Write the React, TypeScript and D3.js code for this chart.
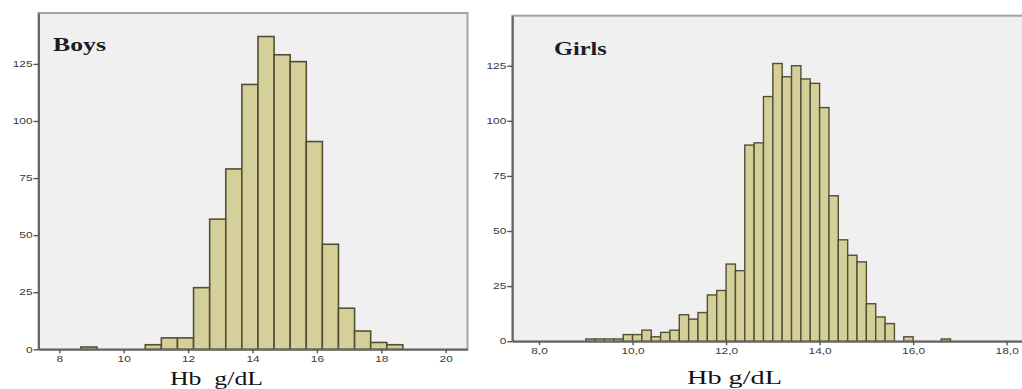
import { axisBottom, axisLeft, scaleLinear, select } from "d3";
import { useEffect, useRef } from "react";

// Boys: bins of 0.5 g/dL
const boysBins = [
  8.67, 9.17, 9.67, 10.17, 10.67, 11.17, 11.67, 12.17, 12.67, 13.17, 13.67,
  14.17, 14.67, 15.17, 15.67, 16.17, 16.67, 17.17, 17.67, 18.17,
];
const boysCounts = [
  1, 0, 0, 0, 2, 5, 5, 27, 57, 79, 116, 137, 129, 126, 91, 46, 18, 8, 3, 2,
];

// Girls: bins of 0.2 g/dL
const girlsBins = [
  9.0, 9.2, 9.4, 9.6, 9.8, 10.0, 10.2, 10.4, 10.6, 10.8, 11.0, 11.2, 11.4,
  11.6, 11.8, 12.0, 12.2, 12.4, 12.6, 12.8, 13.0, 13.2, 13.4, 13.6, 13.8, 14.0,
  14.2, 14.4, 14.6, 14.8, 15.0, 15.2, 15.4, 15.6, 15.8, 16.0, 16.2, 16.4, 16.6,
];
const girlsCounts = [
  1, 1, 1, 1, 3, 3, 5, 2, 4, 5, 12, 10, 13, 21, 23, 35, 32, 89, 90, 111, 126,
  120, 125, 119, 117, 106, 66, 46, 39, 36, 17, 11, 8, 0, 2, 0, 0, 0, 1,
];

const boysXTicks = [8, 10, 12, 14, 16, 18, 20];
const girlsXTicks = [8, 10, 12, 14, 16, 18];
const yTicks = [0, 25, 50, 75, 100, 125];

type PanelProps = {
  bins: number[];
  counts: number[];
  binWidth: number;
  xTicks: number[];
  x0: number;
  x1: number;
  top: number;
  bottom: number;
  xMin: number;
  xMax: number;
  yMax: number;
  title: string;
  titleX: number;
  titleY: number;
  titleLen: number;
  xFormat: (d: number) => string;
  label: string;
  labelX: number;
  labelY: number;
  labelLen: number;
  barStroke: number;
};

const Histogram = (p: PanelProps) => {
  const gRef = useRef<SVGGElement>(null);
  const xScale = scaleLinear().domain([p.xMin, p.xMax]).range([p.x0, p.x1]);
  const yScale = scaleLinear().domain([0, p.yMax]).range([p.bottom, p.top]);

  useEffect(() => {
    const g = select(gRef.current);
    g.selectAll(".axis").remove();
    const xa = g
      .append("g")
      .attr("class", "axis")
      .attr("transform", `translate(0,${p.bottom})`)
      .call(
        axisBottom(xScale)
          .tickValues(p.xTicks)
          .tickFormat((d) => p.xFormat(d as number))
          .tickSize(4)
          .tickSizeOuter(0)
          .tickPadding(3)
      );
    const ya = g
      .append("g")
      .attr("class", "axis")
      .attr("transform", `translate(${p.x0},0)`)
      .call(axisLeft(yScale).tickValues(yTicks).tickSize(5).tickSizeOuter(0));

    [xa, ya].forEach((a) => {
      a.select(".domain").attr("stroke", "#666").attr("stroke-width", 2);
      a.selectAll(".tick line").attr("stroke", "#555").attr("stroke-width", 1.4);
      a.selectAll(".tick text")
        .attr("fill", "#3a3a3a")
        .attr("font-family", "Liberation Sans, Arial, sans-serif")
        .attr("font-size", 8.5)
        .attr("transform", "scale(1.4,1)");
    });
    ya.selectAll(".tick text").attr("x", -6 / 1.4);
  }, []);

  return (
    <g ref={gRef}>
      <rect
        x={p.x0}
        y={p.top}
        width={p.x1 - p.x0}
        height={p.bottom - p.top}
        fill="#f0f0f0"
        stroke="#a3a3a3"
        strokeWidth={2}
      />
      {p.bins.map((b, i) =>
        p.counts[i] > 0 ? (
          <rect
            key={i}
            x={xScale(b)}
            y={yScale(p.counts[i])}
            width={xScale(b + p.binWidth) - xScale(b)}
            height={yScale(0) - yScale(p.counts[i])}
            fill="#d5d09a"
            stroke="#524f35"
            strokeWidth={p.barStroke}
          />
        ) : null
      )}
      <text
        x={p.titleX}
        y={p.titleY}
        fontFamily="Liberation Serif, Times New Roman, serif"
        fontWeight="bold"
        fontSize={18}
        fill="#1c1c28"
        textLength={p.titleLen}
        lengthAdjust="spacingAndGlyphs"
      >
        {p.title}
      </text>
      <text
        x={p.labelX}
        y={p.labelY}
        textAnchor="middle"
        fontFamily="Liberation Serif, Times New Roman, serif"
        fontSize={18}
        fill="#111"
        textLength={p.labelLen}
        lengthAdjust="spacingAndGlyphs"
        style={{ whiteSpace: "pre" }}
      >
        {p.label}
      </text>
    </g>
  );
};

const App = () => {
  return (
    <div style={{ position: "absolute", left: 0, top: 0 }}>
      <svg width={1022} height={389} style={{ display: "block", background: "#fff" }}>
        <Histogram
          bins={boysBins}
          counts={boysCounts}
          binWidth={0.5}
          xTicks={boysXTicks}
          x0={38.5}
          x1={467.5}
          top={13}
          bottom={349.3}
          xMin={7.354}
          xMax={20.677}
          yMax={147.3}
          title="Boys"
          titleX={53}
          titleY={51}
          titleLen={53}
          xFormat={(d) => String(d)}
          label="Hb  g/dL"
          labelX={216.5}
          labelY={385}
          labelLen={93}
          barStroke={1.6}
        />
        <Histogram
          bins={girlsBins}
          counts={girlsCounts}
          binWidth={0.2}
          xTicks={girlsXTicks}
          x0={512.3}
          x1={1132}
          top={15.7}
          bottom={341.2}
          xMin={7.429}
          xMax={20.68}
          yMax={147.7}
          title="Girls"
          titleX={554}
          titleY={55}
          titleLen={52.7}
          xFormat={(d) => d.toFixed(1).replace(".", ",")}
          label="Hb g/dL"
          labelX={734.5}
          labelY={384}
          labelLen={95}
          barStroke={1.4}
        />
      </svg>
    </div>
  );
};

export default App;
